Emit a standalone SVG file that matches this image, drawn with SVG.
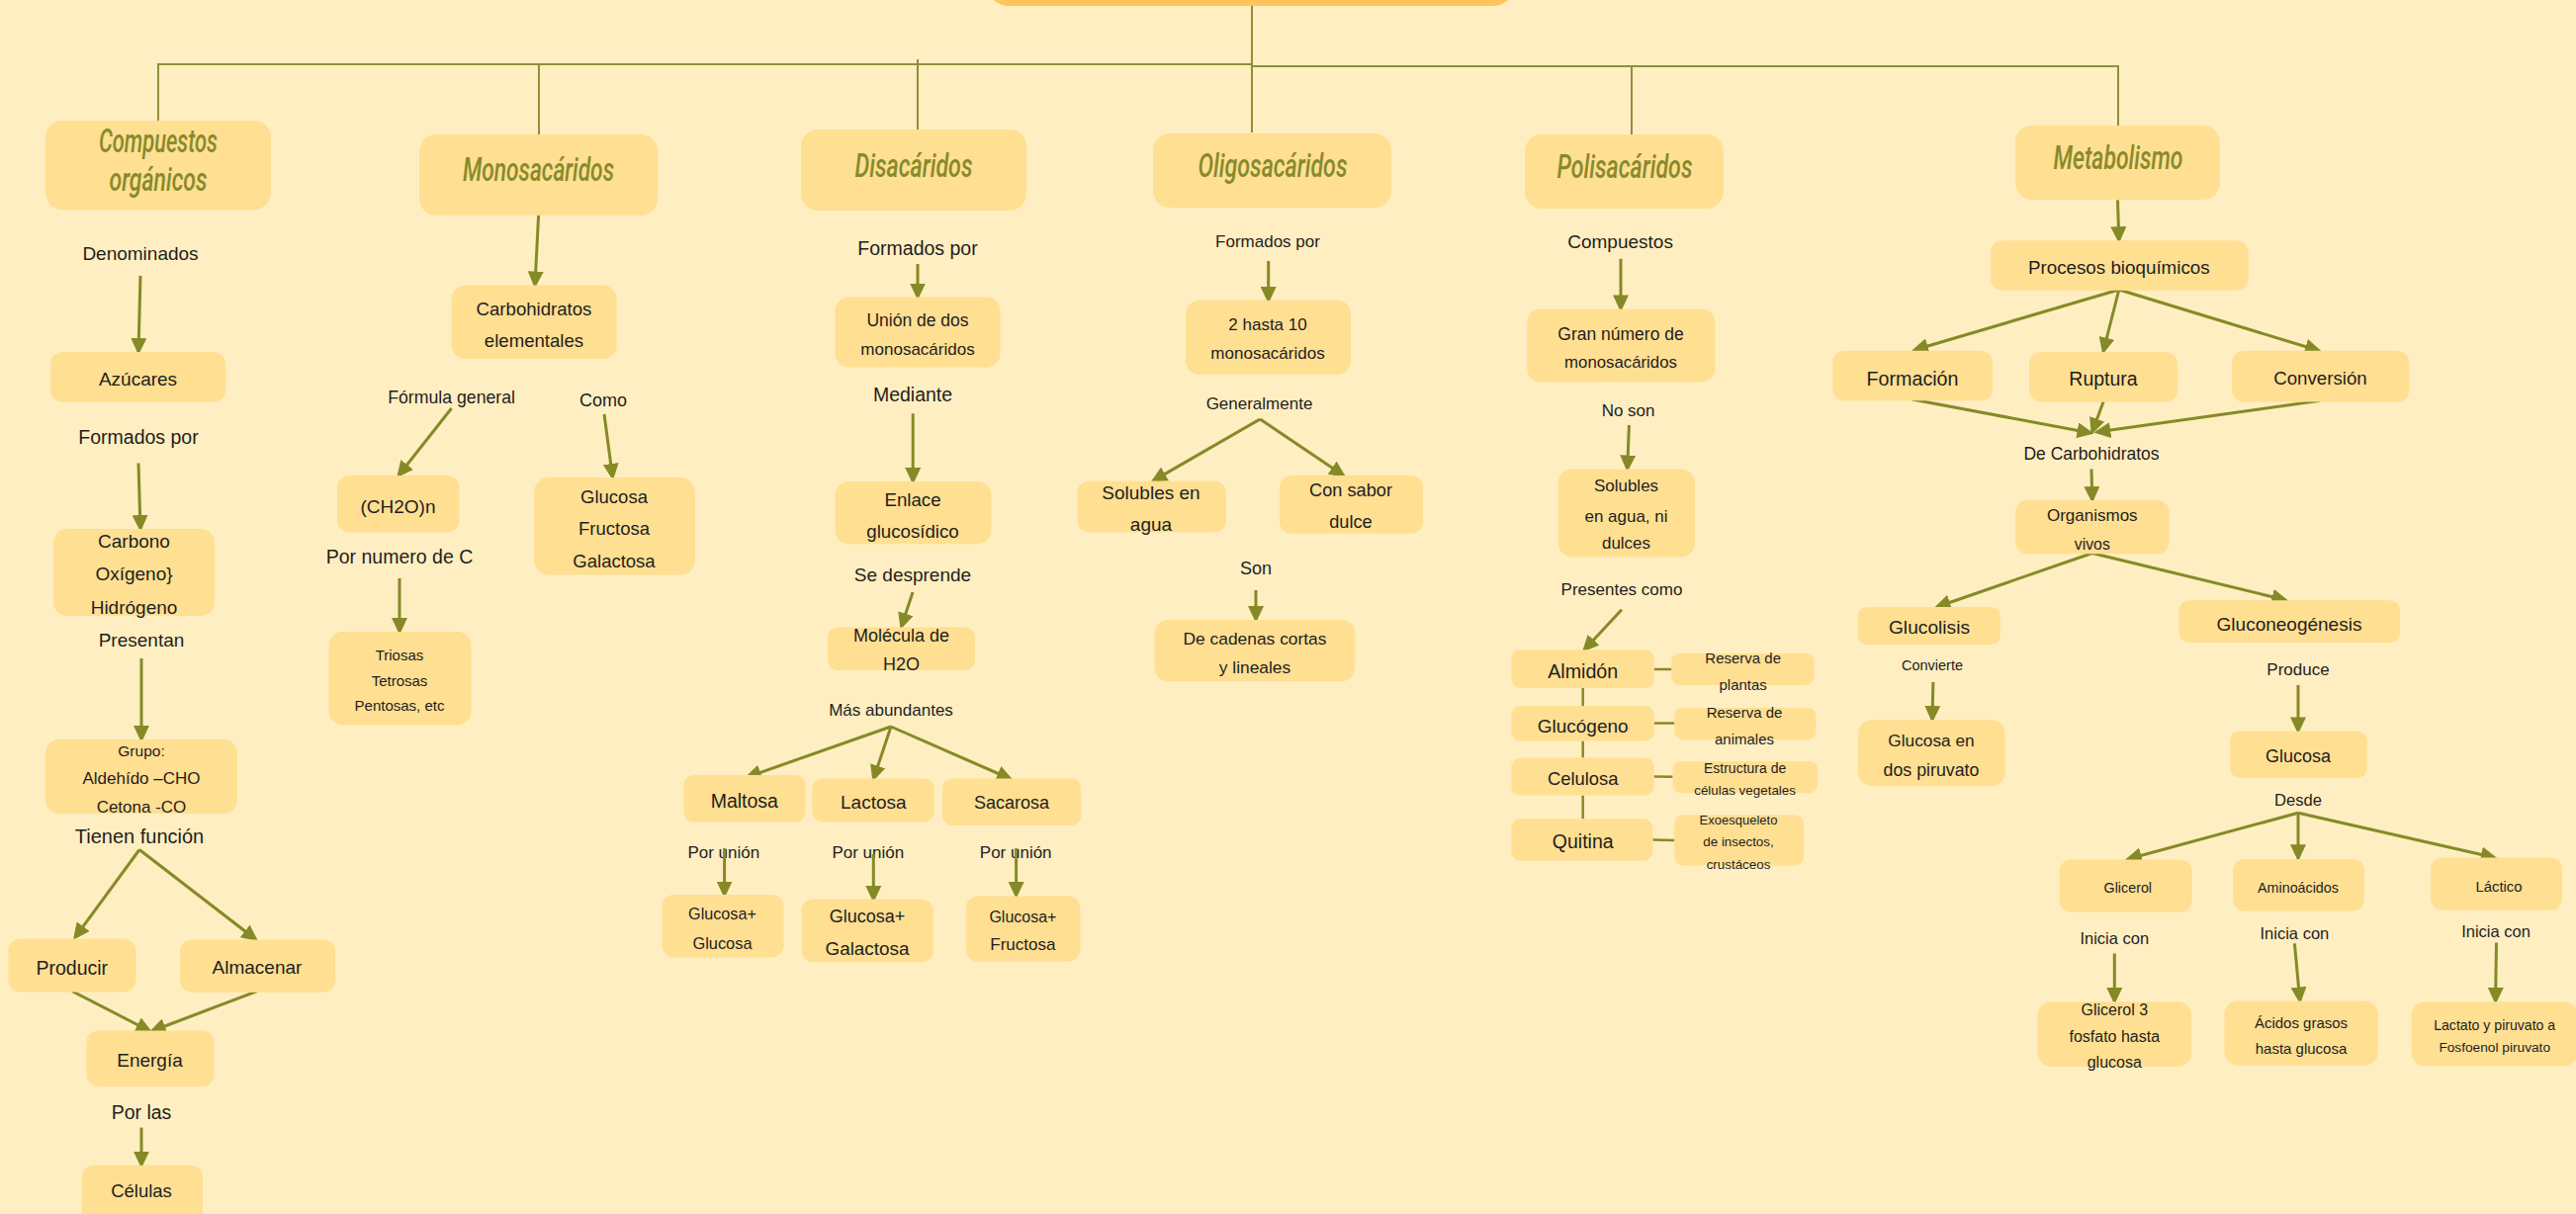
<svg xmlns="http://www.w3.org/2000/svg" width="2605" height="1228" viewBox="0 0 2605 1228">
<defs>
<marker id="ah" markerUnits="userSpaceOnUse" markerWidth="17" markerHeight="16" refX="14" refY="8" orient="auto">
<path d="M0,0 L17,8 L0,16 z" fill="#858A27"/>
</marker>
<style>
.bg{fill:#FFEEC1}
.n{fill:#FFDF92}
.t{font-family:"Liberation Sans",Arial,sans-serif;fill:#1E1E1E;text-anchor:middle;dominant-baseline:central}
.h{font-family:Roboto,"Liberation Sans",sans-serif;font-style:italic;font-weight:500;font-size:33px;fill:#878A2B;text-anchor:middle}
.tree{stroke:#8F8F3A;stroke-width:2;fill:none}
.ar{stroke:#858A27;stroke-width:3;fill:none;marker-end:url(#ah)}
.ln{stroke:#858A27;stroke-width:2.5;fill:none}
</style>
</defs>
<rect class="bg" x="0" y="0" width="2605" height="1228"/>
<rect x="998" y="-80" width="534" height="86" rx="22" fill="#FFC55A"/>

<g id="connectors">
<path class="tree" d="M1266,6 V134"/>
<path class="tree" d="M160,122 V65 H1266"/>
<path class="tree" d="M1266,67 H2142 V127"/>
<path class="tree" d="M545,65 V136"/>
<path class="tree" d="M928,60 V131"/>
<path class="tree" d="M1650,67 V136"/>
<line class="ar" x1="544.6" y1="217.5" x2="541" y2="288.6"/>
<line class="ar" x1="142" y1="279" x2="140" y2="356"/>
<line class="ar" x1="140" y1="468.5" x2="142" y2="535"/>
<line class="ar" x1="143" y1="666" x2="143" y2="748"/>
<line class="ar" x1="141" y1="859.5" x2="75.8" y2="948.4"/>
<line class="ar" x1="141" y1="859.5" x2="258.8" y2="950.4"/>
<line class="ar" x1="72.8" y1="1002.5" x2="151.5" y2="1043"/>
<line class="ar" x1="260" y1="1002.5" x2="153.6" y2="1043"/>
<line class="ar" x1="143" y1="1140.6" x2="143" y2="1178.7"/>
<line class="ar" x1="456.6" y1="413" x2="403" y2="481"/>
<line class="ar" x1="611" y1="419" x2="619.5" y2="483"/>
<line class="ar" x1="404" y1="585" x2="404" y2="639"/>
<line class="ar" x1="928" y1="267" x2="928" y2="300.5"/>
<line class="ar" x1="923.2" y1="418.3" x2="923.2" y2="487"/>
<line class="ar" x1="923" y1="599" x2="911.5" y2="634"/>
<line class="ar" x1="901" y1="735" x2="755.7" y2="786"/>
<line class="ar" x1="901" y1="735" x2="883.3" y2="788"/>
<line class="ar" x1="901" y1="735" x2="1022" y2="788"/>
<line class="ar" x1="1282.7" y1="264" x2="1282.7" y2="304"/>
<line class="ar" x1="1274.3" y1="424" x2="1166" y2="486.4"/>
<line class="ar" x1="1274.3" y1="424" x2="1358.7" y2="481"/>
<line class="ar" x1="1270" y1="597" x2="1270" y2="627"/>
<line class="ar" x1="1639" y1="261.8" x2="1639" y2="312.4"/>
<line class="ar" x1="1647.4" y1="430" x2="1645.7" y2="474.5"/>
<line class="ar" x1="1639.9" y1="616.8" x2="1602" y2="657.5"/>
<path class="ln" d="M1600.7,696 V714 M1600.7,749.4 V766.6 M1600.7,804.6 V828.3"/>
<path class="ln" d="M1672.7,676.9 H1690.3 M1672.7,731.4 H1693.3 M1672.7,785.4 L1691.6,785.8 M1671.4,849.5 L1693.3,850"/>
<line class="ar" x1="2141.5" y1="202.4" x2="2142.8" y2="243.2"/>
<line class="ar" x1="2142.8" y1="293" x2="1936" y2="354"/>
<line class="ar" x1="2142.8" y1="293" x2="2127" y2="355.5"/>
<line class="ar" x1="2142.8" y1="293" x2="2345" y2="354.7"/>
<line class="ar" x1="1933.7" y1="404" x2="2114.5" y2="438"/>
<line class="ar" x1="2127" y1="406.5" x2="2115.8" y2="437"/>
<line class="ar" x1="2346.5" y1="405.3" x2="2120.3" y2="437"/>
<line class="ar" x1="2115" y1="474.5" x2="2115.8" y2="506"/>
<line class="ar" x1="2115.8" y1="559.5" x2="1958.5" y2="614"/>
<line class="ar" x1="2115.8" y1="559.5" x2="2311.4" y2="607"/>
<line class="ar" x1="1954.9" y1="690" x2="1954" y2="728"/>
<line class="ar" x1="2324" y1="693" x2="2324" y2="739.4"/>
<line class="ar" x1="2324" y1="822.3" x2="2151.8" y2="869"/>
<line class="ar" x1="2324" y1="822.3" x2="2324" y2="868.3"/>
<line class="ar" x1="2324" y1="822.3" x2="2522.7" y2="867.5"/>
<line class="ar" x1="2138.3" y1="964.4" x2="2138.3" y2="1013"/>
<line class="ar" x1="2320.4" y1="954.4" x2="2325.8" y2="1012.5"/>
<line class="ar" x1="2524.5" y1="953.6" x2="2523.6" y2="1013"/>
</g>

<g id="labels">
<text class="t" x="142" y="256" font-size="19">Denominados</text>
<text class="t" x="140" y="442" font-size="19.5">Formados por</text>
<text class="t" x="143" y="647" font-size="19">Presentan</text>
<text class="t" x="141" y="845.5" font-size="20">Tienen función</text>
<text class="t" x="143" y="1124.6" font-size="19.5">Por las</text>
<text class="t" x="456.6" y="402" font-size="17.7">Fórmula general</text>
<text class="t" x="610" y="405" font-size="18">Como</text>
<text class="t" x="404" y="562.7" font-size="19.5">Por numero de C</text>
<text class="t" x="928" y="251" font-size="19.5">Formados por</text>
<text class="t" x="923" y="399.4" font-size="19.5">Mediante</text>
<text class="t" x="923" y="581.3" font-size="19">Se desprende</text>
<text class="t" x="901" y="718" font-size="17">Más abundantes</text>
<text class="t" x="1282" y="244" font-size="17">Formados por</text>
<text class="t" x="1273.5" y="408.5" font-size="17">Generalmente</text>
<text class="t" x="1270" y="574.5" font-size="18">Son</text>
<text class="t" x="1638.6" y="244" font-size="19">Compuestos</text>
<text class="t" x="1646.6" y="415.2" font-size="17">No son</text>
<text class="t" x="1640" y="596" font-size="17">Presentes como</text>
<text class="t" x="2115" y="458.7" font-size="17.5">De Carbohidratos</text>
<text class="t" x="1954" y="672.5" font-size="14.5">Convierte</text>
<text class="t" x="2324" y="677.3" font-size="17">Produce</text>
<text class="t" x="2324" y="809.5" font-size="16.6">Desde</text>
<text class="t" x="2138.3" y="949.2" font-size="16.5">Inicia con</text>
<text class="t" x="2320.4" y="943.6" font-size="16.5">Inicia con</text>
<text class="t" x="2524" y="941.6" font-size="16.5">Inicia con</text>
</g>

<g id="n-compuestos"><rect class="n" x="46" y="122" width="228" height="90" rx="17"/>
<text class="h" x="160" y="154" textLength="120" lengthAdjust="spacingAndGlyphs">Compuestos</text>
<text class="h" x="160" y="193" textLength="99" lengthAdjust="spacingAndGlyphs">orgánicos</text></g>
<g id="n-monosacaridos"><rect class="n" x="424" y="136" width="241" height="82" rx="17"/>
<text class="h" x="544.5" y="183" textLength="153" lengthAdjust="spacingAndGlyphs">Monosacáridos</text></g>
<g id="n-disacaridos"><rect class="n" x="810" y="131" width="228" height="82" rx="17"/>
<text class="h" x="924" y="179" textLength="119" lengthAdjust="spacingAndGlyphs">Disacáridos</text></g>
<g id="n-oligosacaridos"><rect class="n" x="1166" y="135" width="241" height="75" rx="17"/>
<text class="h" x="1287" y="179" textLength="151" lengthAdjust="spacingAndGlyphs">Oligosacáridos</text></g>
<g id="n-polisacaridos"><rect class="n" x="1542" y="136" width="201" height="75" rx="17"/>
<text class="h" x="1643" y="180" textLength="137" lengthAdjust="spacingAndGlyphs">Polisacáridos</text></g>
<g id="n-metabolismo"><rect class="n" x="2038" y="127" width="207" height="75" rx="17"/>
<text class="h" x="2142" y="171" textLength="131" lengthAdjust="spacingAndGlyphs">Metabolismo</text></g>

<g id="n-azucares"><rect class="n" x="51" y="356" width="177" height="50.5" rx="12"/>
<text class="t" x="139.5" y="383.5" font-size="19">Azúcares</text></g>
<g id="n-carbono"><rect class="n" x="54" y="535" width="163" height="88" rx="14"/>
<text class="t" x="135.5" y="547.6" font-size="19">Carbono</text>
<text class="t" x="135.5" y="580.5" font-size="19">Oxígeno}</text>
<text class="t" x="135.5" y="614" font-size="19">Hidrógeno</text></g>
<g id="n-grupo"><rect class="n" x="46" y="748" width="194" height="75" rx="14"/>
<text class="t" x="143" y="759" font-size="15.5">Grupo:</text>
<text class="t" x="143" y="787.4" font-size="17">Aldehído –CHO</text>
<text class="t" x="143" y="816.3" font-size="17">Cetona -CO</text></g>
<g id="n-producir"><rect class="n" x="8.4" y="949.6" width="129" height="54" rx="12"/>
<text class="t" x="72.8" y="978.5" font-size="19.5">Producir</text></g>
<g id="n-almacenar"><rect class="n" x="182" y="950.4" width="157" height="53.3" rx="12"/>
<text class="t" x="260" y="978" font-size="19">Almacenar</text></g>
<g id="n-energia"><rect class="n" x="87.5" y="1042.5" width="129" height="56.5" rx="12"/>
<text class="t" x="151.5" y="1072.6" font-size="19">Energía</text></g>
<g id="n-celulas"><rect class="n" x="82.5" y="1178.7" width="122.5" height="70" rx="12"/>
<text class="t" x="143" y="1204.7" font-size="18.5">Células</text></g>

<g id="n-carbohidratos"><rect class="n" x="456.6" y="288.6" width="167" height="74.4" rx="14"/>
<text class="t" x="540" y="312.4" font-size="18.6">Carbohidratos</text>
<text class="t" x="540" y="344" font-size="18.6">elementales</text></g>
<g id="n-ch2o"><rect class="n" x="341" y="481" width="123.6" height="57.5" rx="12"/>
<text class="t" x="402.5" y="512" font-size="19">(CH2O)n</text></g>
<g id="n-glucosa-fructosa"><rect class="n" x="540" y="483" width="163" height="98.5" rx="15"/>
<text class="t" x="621" y="502" font-size="18.5">Glucosa</text>
<text class="t" x="621" y="534.6" font-size="18.5">Fructosa</text>
<text class="t" x="621" y="567.4" font-size="18.5">Galactosa</text></g>
<g id="n-triosas"><rect class="n" x="332.5" y="639" width="144" height="94.4" rx="14"/>
<text class="t" x="404" y="662" font-size="15">Triosas</text>
<text class="t" x="404" y="688" font-size="15">Tetrosas</text>
<text class="t" x="404" y="713.3" font-size="15">Pentosas, etc</text></g>

<g id="n-union"><rect class="n" x="844.5" y="300.5" width="167" height="71.2" rx="14"/>
<text class="t" x="928" y="324.2" font-size="17.5">Unión de dos</text>
<text class="t" x="928" y="353" font-size="17">monosacáridos</text></g>
<g id="n-enlace"><rect class="n" x="844.5" y="487" width="158" height="63.4" rx="14"/>
<text class="t" x="923" y="505.3" font-size="18.7">Enlace</text>
<text class="t" x="923" y="537.8" font-size="18.7">glucosídico</text></g>
<g id="n-molecula"><rect class="n" x="837" y="634.4" width="149" height="43.6" rx="10"/>
<text class="t" x="911.5" y="643" font-size="18">Molécula de</text>
<text class="t" x="911.5" y="672" font-size="18">H2O</text></g>
<g id="n-maltosa"><rect class="n" x="691.3" y="784" width="123.4" height="47.5" rx="10"/>
<text class="t" x="752.8" y="809.5" font-size="19.5">Maltosa</text></g>
<g id="n-lactosa"><rect class="n" x="821.4" y="787.4" width="123.3" height="44" rx="10"/>
<text class="t" x="883.3" y="811.5" font-size="19">Lactosa</text></g>
<g id="n-sacarosa"><rect class="n" x="953" y="787.4" width="140.3" height="47.6" rx="10"/>
<text class="t" x="1023" y="812.3" font-size="18">Sacarosa</text></g>
<g id="labels-union">
<text class="t" x="731.8" y="862.3" font-size="17">Por unión</text>
<text class="t" x="877.8" y="862.3" font-size="17">Por unión</text>
<text class="t" x="1027.2" y="862.3" font-size="17">Por unión</text>
</g>
<g id="connectors-union">
<line class="ar" x1="732.6" y1="858" x2="732.6" y2="905.5"/>
<line class="ar" x1="883.3" y1="864" x2="883.3" y2="910"/>
<line class="ar" x1="1027.6" y1="858" x2="1027.6" y2="906"/>
</g>
<g id="n-glucosa-glucosa"><rect class="n" x="669.5" y="905" width="123" height="63.4" rx="12"/>
<text class="t" x="730.5" y="924.4" font-size="16.2">Glucosa+</text>
<text class="t" x="730.5" y="953.6" font-size="16.4">Glucosa</text></g>
<g id="n-glucosa-galactosa"><rect class="n" x="810.5" y="909.6" width="133.4" height="63.6" rx="12"/>
<text class="t" x="877" y="927.2" font-size="18">Glucosa+</text>
<text class="t" x="877" y="959.2" font-size="18.9">Galactosa</text></g>
<g id="n-glucosa-fructosa2"><rect class="n" x="976.7" y="906.4" width="115.7" height="66" rx="12"/>
<text class="t" x="1034.4" y="927.2" font-size="16">Glucosa+</text>
<text class="t" x="1034.4" y="955.6" font-size="17">Fructosa</text></g>

<g id="n-hasta10"><rect class="n" x="1199" y="303.7" width="167" height="75.1" rx="14"/>
<text class="t" x="1282" y="328" font-size="17">2 hasta 10</text>
<text class="t" x="1282" y="357.8" font-size="17">monosacáridos</text></g>
<g id="n-solubles-agua"><rect class="n" x="1089.5" y="486.4" width="150.5" height="52.1" rx="12"/>
<text class="t" x="1164" y="498" font-size="19">Solubles en</text>
<text class="t" x="1164" y="530.6" font-size="19">agua</text></g>
<g id="n-sabor"><rect class="n" x="1294" y="481" width="145" height="58.7" rx="12"/>
<text class="t" x="1366" y="496" font-size="18.2">Con sabor</text>
<text class="t" x="1366" y="528" font-size="18.2">dulce</text></g>
<g id="n-cadenas"><rect class="n" x="1167.4" y="627" width="203" height="62.3" rx="14"/>
<text class="t" x="1269" y="646" font-size="17.4">De cadenas cortas</text>
<text class="t" x="1269" y="675" font-size="17.4">y lineales</text></g>

<g id="n-gran-numero"><rect class="n" x="1544.3" y="312.4" width="190.2" height="74.3" rx="14"/>
<text class="t" x="1639" y="338" font-size="17.5">Gran número de</text>
<text class="t" x="1639" y="366.5" font-size="16.8">monosacáridos</text></g>
<g id="n-solubles-dulces"><rect class="n" x="1576" y="474.5" width="138" height="89" rx="14"/>
<text class="t" x="1644.5" y="491.5" font-size="17">Solubles</text>
<text class="t" x="1644.5" y="522" font-size="17">en agua, ni</text>
<text class="t" x="1644.5" y="549.6" font-size="17">dulces</text></g>
<g id="n-almidon"><rect class="n" x="1528.3" y="657.3" width="144.4" height="38.7" rx="9"/>
<text class="t" x="1600.7" y="679" font-size="19.7">Almidón</text></g>
<g id="n-glucogeno"><rect class="n" x="1528.3" y="714" width="144.4" height="35.4" rx="9"/>
<text class="t" x="1600.7" y="734" font-size="19">Glucógeno</text></g>
<g id="n-celulosa"><rect class="n" x="1528.3" y="766.6" width="144.4" height="38" rx="9"/>
<text class="t" x="1600.7" y="787.4" font-size="18.4">Celulosa</text></g>
<g id="n-quitina"><rect class="n" x="1528.3" y="828.3" width="143" height="42.4" rx="9"/>
<text class="t" x="1600.7" y="851" font-size="19.5">Quitina</text></g>
<g id="n-reserva-plantas"><rect class="n" x="1690.3" y="660.9" width="144.4" height="32" rx="8"/>
<text class="t" x="1762.7" y="665.3" font-size="15">Reserva de</text>
<text class="t" x="1762.7" y="692" font-size="15">plantas</text></g>
<g id="n-reserva-animales"><rect class="n" x="1693.3" y="716" width="143" height="32.2" rx="8"/>
<text class="t" x="1764" y="720" font-size="15">Reserva de</text>
<text class="t" x="1764" y="747" font-size="15">animales</text></g>
<g id="n-estructura"><rect class="n" x="1691.6" y="770.2" width="146.4" height="32" rx="8"/>
<text class="t" x="1764.6" y="777" font-size="14">Estructura de</text>
<text class="t" x="1764.6" y="799" font-size="13.4">células vegetales</text></g>
<g id="n-exoesqueleto"><rect class="n" x="1693.3" y="824.3" width="131" height="51.2" rx="9"/>
<text class="t" x="1758" y="829.5" font-size="13">Exoesqueleto</text>
<text class="t" x="1758" y="851" font-size="13.4">de insectos,</text>
<text class="t" x="1758" y="874.3" font-size="13.4">crustáceos</text></g>

<g id="n-procesos"><rect class="n" x="2013" y="243.2" width="260.7" height="50.6" rx="12"/>
<text class="t" x="2142.8" y="270.9" font-size="18.8">Procesos bioquímicos</text></g>
<g id="n-formacion"><rect class="n" x="1853.2" y="354.7" width="162" height="50.6" rx="12"/>
<text class="t" x="1934" y="382.8" font-size="19.7">Formación</text></g>
<g id="n-ruptura"><rect class="n" x="2052" y="355.9" width="150" height="50.6" rx="12"/>
<text class="t" x="2127" y="382.8" font-size="19.5">Ruptura</text></g>
<g id="n-conversion"><rect class="n" x="2257" y="354.7" width="179.4" height="51.8" rx="12"/>
<text class="t" x="2346.5" y="382.8" font-size="18.7">Conversión</text></g>
<g id="n-organismos"><rect class="n" x="2038" y="506" width="155.6" height="54.3" rx="12"/>
<text class="t" x="2115.8" y="521" font-size="17">Organismos</text>
<text class="t" x="2115.8" y="550.4" font-size="15.8">vivos</text></g>
<g id="n-glucolisis"><rect class="n" x="1878.5" y="614" width="144.3" height="38" rx="9"/>
<text class="t" x="1951" y="634.8" font-size="19.2">Glucolisis</text></g>
<g id="n-glucosa-piruvato"><rect class="n" x="1879" y="728.2" width="148.7" height="66.8" rx="14"/>
<text class="t" x="1953" y="749" font-size="17.3">Glucosa en</text>
<text class="t" x="1953" y="779" font-size="17.8">dos piruvato</text></g>
<g id="n-gluconeogenesis"><rect class="n" x="2203.5" y="607.2" width="223.5" height="42.8" rx="10"/>
<text class="t" x="2315" y="631.2" font-size="19">Gluconeogénesis</text></g>
<g id="n-glucosa"><rect class="n" x="2255.2" y="739.4" width="138.5" height="47.6" rx="10"/>
<text class="t" x="2324" y="765" font-size="18">Glucosa</text></g>
<g id="n-glicerol"><rect class="n" x="2082.6" y="869.5" width="134" height="53.3" rx="12"/>
<text class="t" x="2151.8" y="898.4" font-size="14.3">Glicerol</text></g>
<g id="n-aminoacidos"><rect class="n" x="2258" y="869" width="133" height="52.6" rx="12"/>
<text class="t" x="2324" y="897.6" font-size="14.3">Aminoácidos</text></g>
<g id="n-lactico"><rect class="n" x="2458" y="867.5" width="133" height="53.3" rx="12"/>
<text class="t" x="2527" y="896.8" font-size="14.9">Láctico</text></g>
<g id="n-glicerol3"><rect class="n" x="2060.5" y="1013.3" width="155.5" height="65.7" rx="14"/>
<text class="t" x="2138.3" y="1021.7" font-size="16">Glicerol 3</text>
<text class="t" x="2138.3" y="1048.5" font-size="16">fosfato hasta</text>
<text class="t" x="2138.3" y="1074.6" font-size="16">glucosa</text></g>
<g id="n-acidos"><rect class="n" x="2249.4" y="1012.5" width="155.6" height="65.3" rx="14"/>
<text class="t" x="2327" y="1034.5" font-size="15">Ácidos grasos</text>
<text class="t" x="2327" y="1060.5" font-size="15">hasta glucosa</text></g>
<g id="n-lactato"><rect class="n" x="2438.7" y="1013.3" width="168" height="65.3" rx="14"/>
<text class="t" x="2522.7" y="1036.5" font-size="14.1">Lactato y piruvato a</text>
<text class="t" x="2522.7" y="1059.4" font-size="13.7">Fosfoenol piruvato</text></g>
</svg>
